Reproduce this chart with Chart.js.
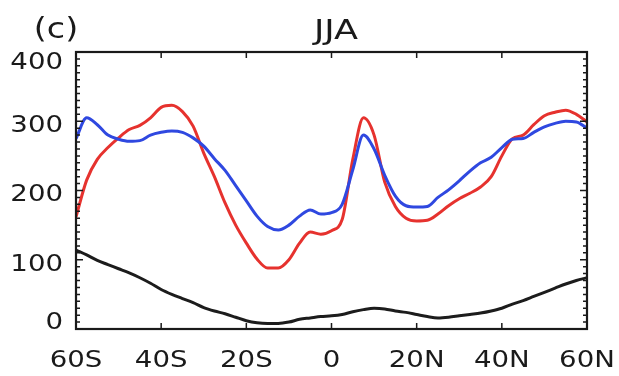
<!DOCTYPE html>
<html>
<head>
<meta charset="utf-8">
<script src="https://cdn.jsdelivr.net/npm/chart.js@4"></script>
<style>
  html, body { margin: 0; padding: 0; background: #fff; }
  #wrap { width: 619px; height: 376px; }
</style>
</head>
<body>
<div id="wrap"><canvas id="chart"></canvas></div>
<script>
const lats = [-60, -57.5, -55, -52.5, -50, -47.5, -45, -42.5, -40, -37.5, -35, -32.5, -30, -27.5, -25, -22.5, -20, -17.5, -15, -12.5, -10, -7.5, -5, -2.5, 0,
  2.5, 5, 7.5, 10, 12.5, 15, 17.5, 20, 22.5, 25, 27.5, 30, 32.5, 35, 37.5, 40, 42.5, 45, 47.5, 50, 52.5, 55, 57.5, 60];

const blueVals = [275, 305, 295, 280, 274, 271, 272, 280, 284, 286, 284, 276, 264, 246, 229, 207, 185, 163, 148, 143, 150, 163, 172, 166, 168,
  180, 230, 280, 260, 222, 192, 178, 176, 177, 190, 201, 214, 228, 240, 248, 262, 274, 275, 284, 292, 297, 300, 299, 290];

const redVals = [162, 215, 245, 262, 276, 288, 294, 305, 320, 323, 314, 293, 254, 220, 182, 150, 124, 101, 88, 88, 100, 124, 140, 137, 142,
  158, 245, 305, 280, 212, 177, 160, 156, 157, 166, 178, 188, 196, 205, 220, 250, 275, 280, 295, 308, 313, 316, 310, 299];

const blackVals = [114, 107, 99, 93, 87, 81, 74, 66, 57, 50, 44, 38, 31, 26, 22, 17, 12, 9, 8, 8, 10, 14, 16, 18, 19,
  21, 25, 28, 30, 29, 26, 24, 21, 18, 16, 17, 19, 21, 23, 26, 30, 36, 41, 47, 53, 59, 65, 70, 74];

const xTicks = [-60, -40, -20, 0, 20, 40, 60];
const xTickLabels = ["60S", "40S", "20S", "0", "20N", "40N", "60N"];
const yTicks = [0, 100, 200, 300, 400];
const yTickLabels = ["0", "100", "200", "300", "400"];
const panelLabel = "(c)";
const titleText = "JJA";

function points(vals) {
  return lats.map((lat, i) => ({ x: lat, y: vals[i] }));
}

// IDL-style frame, inward ticks and stretched labels
const frame = {
  id: "frame",
  afterDraw(chart) {
    const ctx = chart.ctx;
    const a = chart.chartArea;
    const xs = chart.scales.x;
    const ys = chart.scales.y;
    ctx.save();
    ctx.strokeStyle = "#1a1a1a";
    ctx.lineWidth = 2.2;
    ctx.strokeRect(a.left, a.top, a.right - a.left, a.bottom - a.top);

    ctx.lineWidth = 1.5;
    ctx.beginPath();
    xTicks.forEach((t) => {
      const px = xs.getPixelForValue(t);
      ctx.moveTo(px, a.bottom); ctx.lineTo(px, a.bottom - 6);
      ctx.moveTo(px, a.top); ctx.lineTo(px, a.top + 6);
    });
    for (let v = 0; v <= 400; v += 10) {
      const py = ys.getPixelForValue(v);
      const len = v % 100 === 0 ? 7 : 4;
      ctx.moveTo(a.left, py); ctx.lineTo(a.left + len, py);
      ctx.moveTo(a.right, py); ctx.lineTo(a.right - len, py);
    }
    ctx.stroke();

    ctx.fillStyle = "#1a1a1a";
    ctx.font = "23px 'DejaVu Sans'";
    ctx.textBaseline = "middle";
    const sx = 1.2;
    ctx.textAlign = "center";
    xTicks.forEach((t, i) => {
      ctx.save();
      ctx.translate(xs.getPixelForValue(t), 361);
      ctx.scale(sx, 1);
      ctx.fillText(xTickLabels[i], 0, 0);
      ctx.restore();
    });
    ctx.textAlign = "right";
    yTicks.forEach((t, i) => {
      const ly = Math.min(323, Math.max(63, ys.getPixelForValue(t) + 5));
      ctx.save();
      ctx.translate(63, ly);
      ctx.scale(sx, 1);
      ctx.fillText(yTickLabels[i], 0, 0);
      ctx.restore();
    });

    ctx.textAlign = "center";
    ctx.font = "29px 'DejaVu Sans'";
    ctx.save();
    ctx.translate(56, 30);
    ctx.scale(1.15, 1);
    ctx.fillText(panelLabel, 0, 0);
    ctx.restore();
    ctx.font = "27px 'DejaVu Sans'";
    ctx.save();
    ctx.translate(336, 32);
    ctx.scale(1.3, 1);
    ctx.fillText(titleText, 0, 0);
    ctx.restore();
    ctx.restore();
  }
};

const ctx = document.getElementById("chart");

new Chart(ctx, {
  type: "line",
  data: {
    datasets: [
      { data: points(blackVals), borderColor: "#1c1c1c" },
      { data: points(blueVals), borderColor: "#2f48e0" },
      { data: points(redVals), borderColor: "#e6322e" },
    ],
  },
  options: {
    responsive: true,
    maintainAspectRatio: false,
    animation: false,
    layout: { padding: { top: 52, right: 32, left: 0, bottom: 0 } },
    elements: {
      point: { radius: 0 },
      line: { borderWidth: 3, cubicInterpolationMode: "monotone" },
    },
    plugins: {
      legend: { display: false },
      tooltip: { enabled: false },
    },
    scales: {
      x: {
        type: "linear",
        min: -60,
        max: 60,
        grid: { display: false },
        border: { display: false },
        ticks: { display: false, stepSize: 20 },
        afterFit: (s) => { s.height = 47; },
      },
      y: {
        min: 0,
        max: 400,
        grid: { display: false },
        border: { display: false },
        ticks: { display: false, stepSize: 100 },
        afterFit: (s) => { s.width = 76; },
      },
    },
  },
  plugins: [frame],
});
</script>
</body>
</html>
